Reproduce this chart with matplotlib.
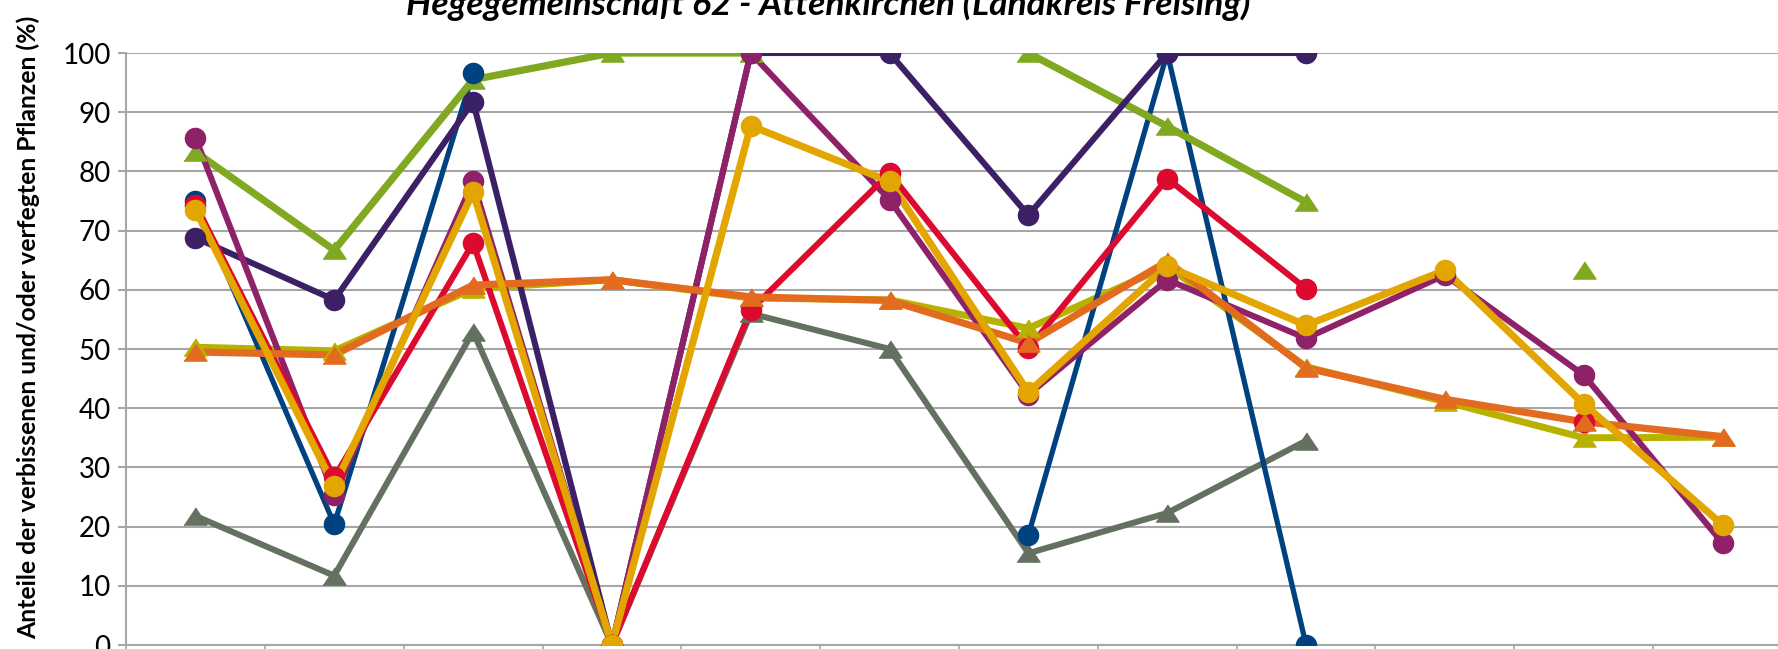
import numpy as np
import matplotlib
matplotlib.use("Agg")
import matplotlib.pyplot as plt

nan = np.nan

TITLE = "Hegegemeinschaft 62 - Attenkirchen (Landkreis Freising)"
YLABEL = "Anteile der verbissenen und/oder verfegten Pflanzen (%)"
Y_TICKS = [0, 10, 20, 30, 40, 50, 60, 70, 80, 90, 100]

# values per category (12 categories, labels are cut off in the reference)
blue = [75.0, 20.4, 96.6, nan, nan, nan, 18.6, 100, 0, nan, nan, nan]
dpurple = [68.8, 58.3, 91.8, 0, 100, 100, 72.6, 100, 100, nan, nan, nan]
magenta = [85.7, 25.3, 78.3, 0, 100, 75.2, 42.3, 61.7, 51.8, 62.5, 45.6, 17.2]
red = [74.4, 28.3, 67.9, 0, 56.6, 79.7, 50.1, 78.8, 60.2, nan, 37.6, nan]
yellow = [73.5, 26.8, 76.5, 0, 87.7, 78.3, 42.7, 64.0, 54.0, 63.3, 40.7, 20.3]
green = [83.3, 66.7, 95.5, 100, 100, nan, 100, 87.6, 74.8, nan, 63.3, nan]
gray = [21.8, 11.7, 52.9, 0, 56.0, 50.0, 15.5, 22.3, 34.5, nan, nan, nan]
olive = [50.3, 49.7, 60.2, 61.7, 58.6, 58.3, 53.5, 64.0, 47.0, 41.1, 35.0, 35.1]
orange = [49.5, 49.0, 60.8, 61.7, 58.8, 58.2, 51.0, 64.8, 46.8, 41.5, 37.7, 35.2]

TRI = [(-1, -0.75), (1, -0.75), (0, 0.75)]

# (values, colour, linewidth, marker)
series = {
    "gray": (gray, "#647060", 4.4, TRI),
    "olive": (olive, "#B9B100", 5.0, TRI),
    "blue": (blue, "#00427F", 3.8, "o"),
    "green": (green, "#80A921", 5.2, TRI),
    "dpurple": (dpurple, "#3C2066", 4.4, "o"),
    "magenta": (magenta, "#8F2169", 4.4, "o"),
    "red": (red, "#DB0A2E", 4.4, "o"),
    "orange": (orange, "#E36B1F", 5.2, TRI),
    "yellow": (yellow, "#E3A500", 5.2, "o"),
}
marker_order = ["green", "gray", "olive", "blue", "dpurple", "magenta", "red", "orange", "yellow"]

FONT = ["Lato", "DejaVu Sans"]
plt.rcParams["font.family"] = FONT

fig = plt.figure(figsize=(17.78, 6.49), dpi=100)
ax = fig.add_axes([126 / 1778, 4 / 649, 1666 / 1778, 592 / 649])

x = np.arange(12) + 0.5
for name, (vals, col, lw, mk) in series.items():
    ax.plot(x, vals, color=col, lw=lw, solid_joinstyle="round", zorder=3)
for name in marker_order:
    vals, col, lw, mk = series[name]
    ms = 14.5 if mk == "o" else 16.5
    ax.plot(x, vals, ls="none", marker=mk, ms=ms, color=col, mec=col, zorder=4)

ax.set_xlim(0, 12)
ax.set_ylim(0, 100)
ax.set_yticks(Y_TICKS)
ax.set_xticks(np.arange(13))
ax.set_xticklabels([])
ax.grid(axis="y", color="#A6A6A6", lw=1.5, zorder=1)
for s in ["top", "right"]:
    ax.spines[s].set_visible(False)
for s in ["left", "bottom"]:
    ax.spines[s].set_color("#A6A6A6")
    ax.spines[s].set_linewidth(1.5)
    ax.spines[s].set_zorder(1)
ax.tick_params(axis="y", length=6, width=1.5, color="#A6A6A6", labelsize=20, pad=5)
ax.tick_params(axis="x", length=6, width=1.2, color="#A6A6A6")
for lbl in ax.get_yticklabels():
    lbl.set_clip_on(False)

fig.text(828 / 1778, 1 - 15 / 649, TITLE, ha="center", va="baseline",
         fontsize=25.5, fontweight="bold", fontstyle="italic")
fig.text(28 / 1778, 1 - 327 / 649, YLABEL, ha="center", va="center",
         rotation=90, fontsize=17.8, fontweight="bold")

fig.savefig("out.png", dpi=100)
